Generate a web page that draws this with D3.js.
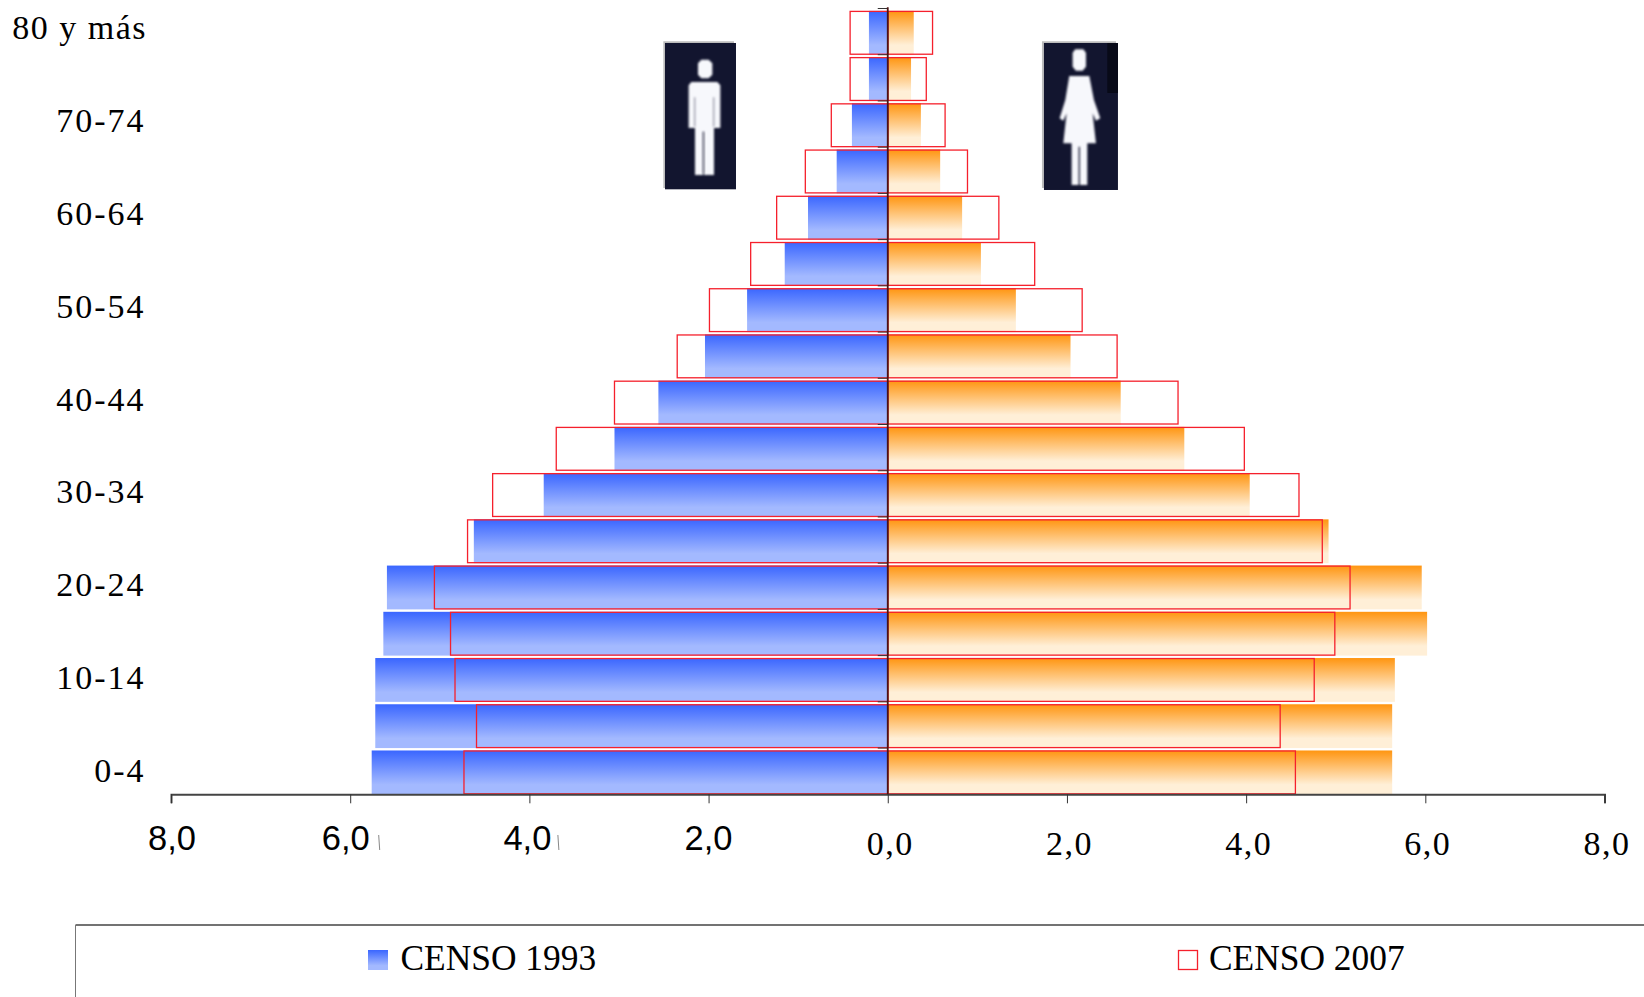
<!DOCTYPE html>
<html><head><meta charset="utf-8">
<script src="https://cdn.jsdelivr.net/npm/d3@7"></script>
<style>html,body{margin:0;padding:0;background:#fff;overflow:hidden}svg{display:block}</style>
</head><body><svg id="c" width="1644" height="997"></svg>
<script>
const ageGroups=["0-4","5-9","10-14","15-19","20-24","25-29","30-34","35-39","40-44","45-49","50-54","55-59","60-64","65-69","70-74","75-79","80 y más"];
const shownAgeLabels=["0-4","10-14","20-24","30-34","40-44","50-54","60-64","70-74","80 y más"];
const male1993=[5.76,5.72,5.72,5.63,5.59,4.62,3.84,3.05,2.56,2.04,1.57,1.15,0.89,0.57,0.40,0.21,0.21];
const female1993=[5.63,5.63,5.66,6.02,5.96,4.92,4.04,3.31,2.60,2.04,1.43,1.04,0.83,0.585,0.37,0.26,0.29];
const male2007=[4.73,4.59,4.83,4.88,5.06,4.69,4.41,3.70,3.05,2.35,1.99,1.53,1.24,0.92,0.63,0.42,0.42];
const female2007=[4.55,4.38,4.76,4.99,5.16,4.85,4.59,3.98,3.24,2.56,2.17,1.64,1.24,0.89,0.64,0.43,0.50];
const xTicks=[-8,-6,-4,-2,0,2,4,6,8];
const legendLabels=["CENSO 1993","CENSO 2007"];

const svg=d3.select("#c");
const defs=svg.append("defs");
function grad(id,c0,c1){const g=defs.append("linearGradient").attr("id",id).attr("x1",0).attr("x2",0).attr("y1",0).attr("y2",1);
 g.append("stop").attr("offset","0").attr("stop-color",c0);
 g.append("stop").attr("offset","0.78").attr("stop-color",c1);
 g.append("stop").attr("offset","1").attr("stop-color",c1);}
grad("blue","#3a66ff","#a3b9ff");grad("orange","#ff9510","#ffefd7");
defs.append("filter").attr("id","soft").attr("x","-20%").attr("y","-20%").attr("width","140%").attr("height","140%")
 .append("feGaussianBlur").attr("stdDeviation",2.6);

const x=d3.scaleLinear().domain([-8,8]).range([171,1604.5]);
const y=d3.scaleBand().domain(ageGroups).range([794.3,8.5]);
const labelY=d3.scalePoint().domain(shownAgeLabels).range([782,39]);
const bh=y.bandwidth(),gap=2.4;

// 1993 filled bars
function bars(vals,sign,fill){svg.append("g").selectAll("rect").data(vals).join("rect")
 .attr("x",d=>sign<0?x(-d):x(0)).attr("width",d=>Math.abs(x(d)-x(0)))
 .attr("y",(d,i)=>y(ageGroups[i])+gap).attr("height",bh-gap).attr("fill",fill);}
bars(male1993,-1,"url(#blue)");bars(female1993,1,"url(#orange)");

// 2007 outlined bars
function outlines(vals,sign){svg.append("g").selectAll("rect").data(vals).join("rect")
 .attr("x",d=>sign<0?x(-d):x(0)).attr("width",d=>Math.abs(x(d)-x(0)))
 .attr("y",(d,i)=>y(ageGroups[i])+gap+.5).attr("height",bh-gap-1).attr("fill","none")
 .attr("stroke","#f5202c").attr("stroke-width",1.3);}
outlines(male2007,-1);outlines(female2007,1);

// x axis
const xAxis=d3.axisBottom(x).tickValues(xTicks).tickSize(9).tickPadding(0).tickFormat("");
const ax=svg.append("g").attr("transform","translate(0,794.3)").call(xAxis);
ax.select(".domain").attr("stroke","#444").attr("stroke-width",2);
ax.selectAll(".tick line").attr("stroke","#333").attr("stroke-width",1);
const fmt=v=>d3.format(".1f")(Math.abs(v)).replace(".",",");
const nudge={"-6":-4.5,"-4":-2,"-2":0,"-8":1};
svg.append("g").selectAll("text").data(xTicks).join("text")
 .attr("x",d=>x(d)+(d<0?(nudge[d]||0):2.5)).attr("y",d=>d<0?850:855)
 .attr("text-anchor","middle").attr("fill","#000")
 .attr("font-family",d=>d<0?"'Liberation Sans'":"'Liberation Serif'")
 .attr("font-size",d=>d<0?34.5:34).attr("letter-spacing",d=>d<0?0:1.5).text(fmt);
// faint clipped slivers after two of the left labels
svg.append("g").selectAll("line").data([-6,-4]).join("line")
 .attr("x1",d=>x(d)+28.5).attr("x2",d=>x(d)+29.5).attr("y1",835).attr("y2",850)
 .attr("stroke","#888").attr("stroke-width",1);

// central axis with band ticks
const yAxis=svg.append("g");
yAxis.selectAll("line").data(ageGroups).join("line")
 .attr("x1",x(0)-10).attr("x2",x(0)).attr("y1",d=>y(d)).attr("y2",d=>y(d))
 .attr("stroke","#333").attr("stroke-width",1);
yAxis.append("line").attr("x1",x(0)).attr("x2",x(0)).attr("y1",7.3).attr("y2",794.3)
 .attr("stroke","#4a1414").attr("stroke-width",1.8);

// category labels
svg.append("g").selectAll("text").data(shownAgeLabels).join("text")
 .attr("x",d=>d==="80 y más"?147:145.5).attr("y",d=>labelY(d)).attr("text-anchor","end")
 .attr("font-family","'Liberation Serif'").attr("font-size",34).attr("letter-spacing",d=>d==="80 y más"?1.5:2)
 .attr("fill","#000").text(d=>d);

// legend
const lg=svg.append("g");
lg.append("line").attr("x1",75.5).attr("x2",1644).attr("y1",925).attr("y2",925).attr("stroke","#444").attr("stroke-width",1.6);
lg.append("line").attr("x1",75.5).attr("x2",75.5).attr("y1",925).attr("y2",997).attr("stroke","#777").attr("stroke-width",1);
lg.append("rect").attr("x",368).attr("y",950).attr("width",20).attr("height",20).attr("fill","url(#blue)");
lg.append("rect").attr("x",1178.5).attr("y",950.5).attr("width",19).attr("height",19).attr("fill","#fff").attr("stroke","#f5202c").attr("stroke-width",1.3);
lg.selectAll("text").data(legendLabels).join("text")
 .attr("x",(d,i)=>i?1209:400.5).attr("y",970).attr("font-family","'Liberation Serif'")
 .attr("font-size",35.4).attr("fill","#000").text(d=>d);

// person pictograms (zoom-space drawing, mapped to the page)
const pic=svg.append("g").attr("transform","translate(620,0) scale(0.3333)");
pic.append("path").attr("d","M130 564V124H342V129H135V564Z").attr("fill","#bdbdbd");
pic.append("rect").attr("x",135).attr("y",129).attr("width",213).attr("height",439).attr("fill","#12152f");
pic.append("path").attr("d","M1266 564V124H1488V129H1272V564Z").attr("fill","#bdbdbd");
pic.append("rect").attr("x",1272).attr("y",129).attr("width",222).attr("height",441).attr("fill","#12152f");
pic.append("rect").attr("x",1462).attr("y",129).attr("width",32).attr("height",150).attr("fill","#080a18");
pic.append("path").attr("filter","url(#soft)").attr("fill","#f7f8fc")
 .attr("d","M234 190L244 179H266L277 190V224L266 235H244L234 224ZM214 246H292L301 256V384H282V525H252V395H249V525H225V384H206V256Z");
pic.append("path").attr("d","M224 292V380M281 292V380M250 395V520").attr("stroke","#9a9aa8").attr("stroke-width",4).attr("fill","none").attr("filter","url(#soft)");
pic.append("path").attr("filter","url(#soft)").attr("fill","#f7f8fc")
 .attr("d","M1358 158L1366 148H1390L1398 158V200L1388 212H1368L1358 200ZM1348 228H1408L1422 300L1441 355L1428 362L1418 340L1428 430H1402V555H1380V440H1376V555H1355V430H1330L1340 340L1330 362L1319 355L1336 300Z");
</script></body></html>
